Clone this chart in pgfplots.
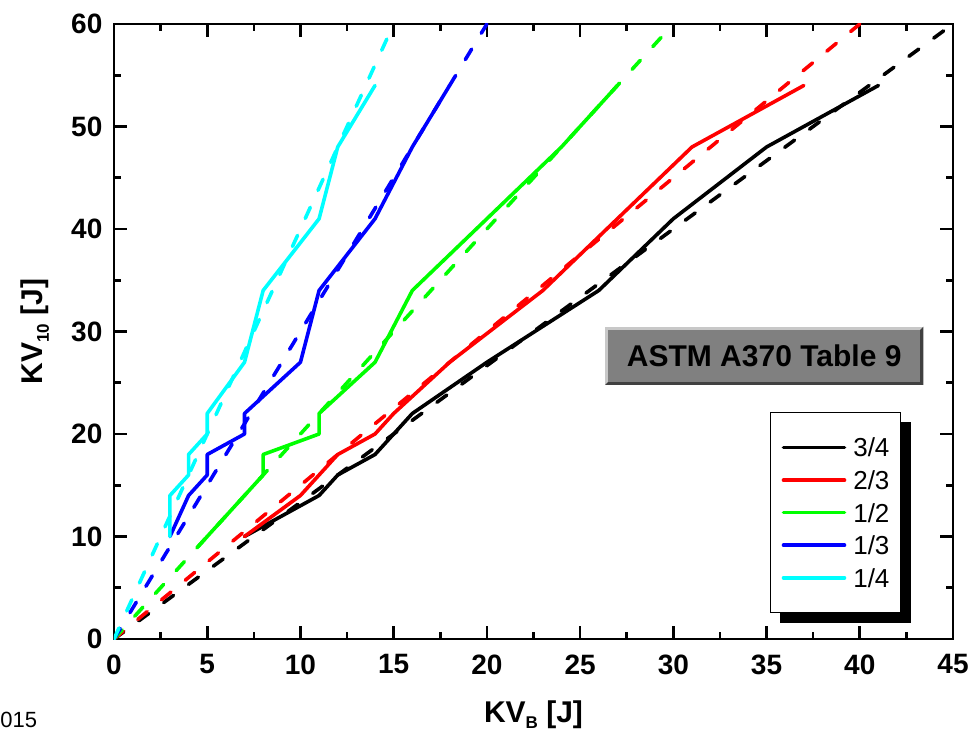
\documentclass[border=0pt]{standalone}
\usepackage{fontspec}
\setmainfont{Liberation Sans}
\usepackage{pgfplots}
\pgfplotsset{compat=1.18}
\usetikzlibrary{backgrounds}
\definecolor{cc}{RGB}{0,255,255}
\definecolor{gg}{RGB}{0,255,0}
\definecolor{rr}{RGB}{255,0,0}
\definecolor{bb}{RGB}{0,0,255}
\definecolor{boxgray}{RGB}{128,128,128}
\definecolor{boxlight}{RGB}{200,200,200}
\definecolor{boxdark}{RGB}{64,64,64}
\newcommand\sub[1]{\raisebox{-3bp}{\fontsize{8.5bp}{10bp}\selectfont #1}}
\begin{document}
\begin{tikzpicture}
\begin{axis}[
  at={(0,0)}, anchor=south west,
  scale only axis, width=419.5bp, height=307.5bp,
  xmin=0, xmax=45, ymin=0, ymax=60,
  xtick={0,5,...,45}, ytick={0,10,...,60},
  minor x tick num=1, minor y tick num=1,
  tick align=inside, tick pos=both,
  major tick length=6.3bp, minor tick length=3.3bp,
  tick style={line width=1.3bp, black},
  axis line style={line width=1.3bp},
  /pgf/number format/assume math mode=true,
  ticklabel style={font=\fontsize{14bp}{16bp}\selectfont\bfseries},
  xticklabel style={yshift=-4.3bp},
  yticklabel style={xshift=-2.3bp},
  xlabel={KV\sub{B} [J]},
  ylabel={KV\sub{10} [J]},
  label style={font=\fontsize{15bp}{18bp}\selectfont\bfseries},
  xlabel style={at={(axis description cs:0.5,-0.135)}, anchor=base},
  ylabel style={at={(axis description cs:-0.094,0.5)}, anchor=center},
  legend style={name=leg, at={(axis description cs:0.782,0.369)}, anchor=north west,
    draw=black, line width=0.6bp, fill=white,
    font=\fontsize{13bp}{15bp}\selectfont,
    inner xsep=5.5bp, inner ysep=12.7bp, row sep=6.9bp, column sep=3.5bp,
    nodes={inner sep=0pt, text height=9.4bp, text depth=0pt}},
  legend cell align=left,
  legend image code/.code={\path (0bp,0bp) -- (30.5bp,0bp); \draw[#1] (0.9bp,0bp) -- (29.6bp,0bp);},
  every axis plot/.append style={line width=1.8bp, line cap=round, line join=round},
]
% 3/4
\addplot[black, solid] coordinates {(7,10) (11,14) (12,16) (14,18) (15,20) (16,22) (20,27) (26,34) (30,41) (35,48) (41,54)};
\addlegendentry{3/4}
\addplot[black, dash pattern=on 6.1bp off 9.3bp, forget plot] coordinates {(0,0) (45,60)};
% 2/3
\addplot[rr, solid] coordinates {(7,10) (10,14) (11,16) (12,18) (14,20) (15,22) (18,27) (23,34) (27,41) (31,48) (37,54)};
\addlegendentry{2/3}
\addplot[rr, dash pattern=on 6.1bp off 9.3bp, forget plot] coordinates {(0,0) (40,60)};
% 1/2
\addplot[gg, solid] coordinates {(4.5,9) (8,16) (8,18) (11,20) (11,22) (14,27) (16,34) (20,41) (24,48) (27,54)};
\addlegendentry{1/2}
\addplot[gg, dash pattern=on 6.1bp off 9.3bp, forget plot] coordinates {(0,0) (30,60)};
% 1/3
\addplot[bb, solid] coordinates {(3,10) (4,14) (5,16) (5,18) (7,20) (7,22) (10,27) (11,34) (14,41) (16,48) (18,54)};
\addlegendentry{1/3}
\addplot[bb, dash pattern=on 6.1bp off 9.3bp, forget plot] coordinates {(0,0) (20,60)};
% 1/4
\addplot[cc, solid] coordinates {(3,10) (3,14) (4,16) (4,18) (5,20) (5,22) (7,27) (8,34) (11,41) (12,48) (14,54)};
\addlegendentry{1/4}
\addplot[cc, dash pattern=on 6.1bp off 9.3bp, forget plot] coordinates {(0,0) (15,60)};
\end{axis}
% legend shadow behind everything
\begin{scope}[on background layer]
\fill[black] ([xshift=5bp,yshift=-5bp]leg.south west) rectangle ([xshift=5bp,yshift=-5bp]leg.north east);
\end{scope}
% text box
\fill[boxlight] (245.5bp,127bp) rectangle (404.7bp,156.2bp);
\fill[boxdark] (245.5bp,127bp) -- (404.7bp,127bp) -- (404.7bp,156.2bp) -- (403bp,154.5bp) -- (403bp,128.7bp) -- (247.2bp,128.7bp) -- cycle;
\fill[boxgray] (247.2bp,128.7bp) rectangle (403bp,154.5bp);
\node[font=\fontsize{15bp}{18bp}\selectfont\bfseries] at (325.1bp,141.6bp) {ASTM A370 Table 9};
\node[anchor=base west, font=\fontsize{11bp}{13bp}\selectfont, inner sep=0pt] at (-57bp,-44bp) {015};
\pgfresetboundingbox
\path[use as bounding box] (-57bp,-47.5bp) rectangle (429bp,319.5bp);
\end{tikzpicture}
\end{document}
